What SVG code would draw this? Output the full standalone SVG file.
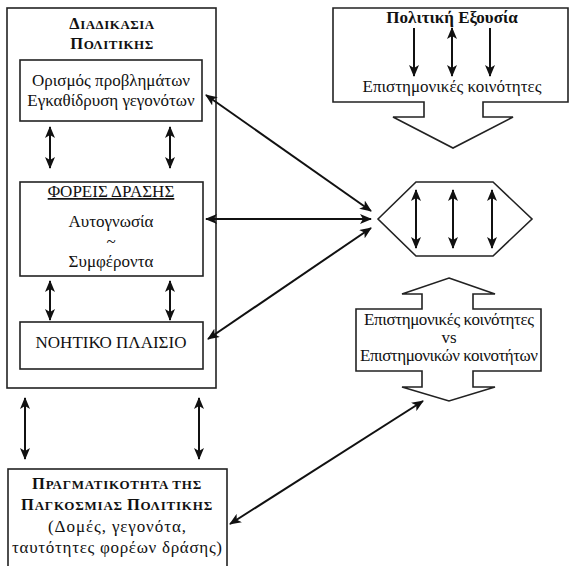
<svg xmlns="http://www.w3.org/2000/svg" width="570" height="566" viewBox="0 0 570 566">
<defs>
<marker id="ah" viewBox="0 0 12 10" refX="11" refY="5" markerWidth="12" markerHeight="10" markerUnits="userSpaceOnUse" orient="auto-start-reverse">
<path d="M0,0 L12,5 L0,10 L3,5 Z" fill="#111"/>
</marker>
</defs>
<style>
.box{fill:#fff;stroke:#222;stroke-width:1.6}
.t{font-family:"Liberation Serif","Times New Roman",serif;font-size:17px;fill:#111;text-anchor:middle}
.b{font-weight:bold}
.c{stroke:#111;stroke-width:2;fill:none}
.two{marker-start:url(#ah);marker-end:url(#ah)}
.one{marker-end:url(#ah)}
</style>
<rect width="570" height="566" fill="#fff"/>

<g id="process">
<rect class="box" x="7" y="8" width="209" height="380"/>
<text class="t b" x="112" y="29" letter-spacing="0.5"><tspan font-size="16.5">Δ</tspan><tspan font-size="13">ΙΑΔΙΚΑΣΙΑ</tspan></text>
<text class="t b" x="112" y="49" letter-spacing="0.5"><tspan font-size="16.5">Π</tspan><tspan font-size="13">ΟΛΙΤΙΚΗΣ</tspan></text>
</g>
<g id="problems">
<rect class="box" x="20" y="60" width="182" height="61"/>
<text class="t" x="111" y="86" font-size="17.5">Ορισμός προβλημάτων</text>
<text class="t" x="111" y="106">Εγκαθίδρυση γεγονότων</text>
</g>
<g id="actors">
<rect class="box" x="20" y="182" width="183" height="94"/>
<text class="t" x="111" y="197" font-size="14" text-decoration="underline">ΦΟΡΕΙΣ ΔΡΑΣΗΣ</text>
<text class="t" x="111" y="227">Αυτογνωσία</text>
<text class="t" x="111" y="247">~</text>
<text class="t" x="111" y="267">Συμφέροντα</text>
</g>
<g id="framework">
<rect class="box" x="20" y="322" width="183" height="47"/>
<text class="t" x="111" y="348" font-size="13.8">ΝΟΗΤΙΚΟ ΠΛΑΙΣΙΟ</text>
</g>
<g id="reality">
<rect class="box" x="8" y="469" width="219" height="110"/>
<text class="t b" x="117" y="489" letter-spacing="0.8"><tspan font-size="16.5">Π</tspan><tspan font-size="13">ΡΑΓΜΑΤΙΚΟΤΗΤΑ ΤΗΣ</tspan></text>
<text class="t b" x="117" y="510" letter-spacing="0.8"><tspan font-size="16.5">Π</tspan><tspan font-size="13">ΑΓΚΟΣΜΙΑΣ </tspan><tspan font-size="16.5">Π</tspan><tspan font-size="13">ΟΛΙΤΙΚΗΣ</tspan></text>
<text class="t" x="117" y="532" font-size="18.5" textLength="138" lengthAdjust="spacing">(Δομές, γεγονότα,</text>
<text class="t" x="117" y="553" font-size="18.5" textLength="210" lengthAdjust="spacing">ταυτότητες φορέων δράσης)</text>
</g>
<g id="power">
<path class="box" d="M333,8 H568 V102 H483 V117 H513 L453,148 L393,117 H424 V102 H333 Z"/>
<text class="t b" x="452" y="23" font-size="17.5">Πολιτική Εξουσία</text>
<text class="t" x="452" y="92" font-size="14.5">Επιστημονικές κοινότητες</text>
</g>
<g id="hexagon">
<path class="box" d="M378,219 L416,182 H493 L532,219 L493,256 H416 Z"/>
</g>
<g id="communities">
<path class="box" d="M449,278 L495,294 H473 V309 H541 V371 H473 V387 H495 L449,401 L402,387 H422 V371 H356 V309 H422 V294 H402 Z"/>
<text class="t" x="449" y="325" font-size="14" textLength="170" lengthAdjust="spacing">Επιστημονικές κοινότητες</text>
<text class="t" x="449" y="343" font-size="14">vs</text>
<text class="t" x="449" y="361" font-size="14" textLength="178" lengthAdjust="spacing">Επιστημονικών κοινοτήτων</text>
</g>
<g id="connectors">
<line class="c two" x1="50" y1="127" x2="50" y2="168"/>
<line class="c two" x1="170" y1="127" x2="170" y2="168"/>
<line class="c two" x1="50" y1="281" x2="50" y2="320"/>
<line class="c two" x1="170" y1="281" x2="170" y2="320"/>
<line class="c two" x1="25" y1="398" x2="25" y2="459"/>
<line class="c two" x1="199" y1="398" x2="199" y2="459"/>
<line class="c one" x1="414" y1="28" x2="414" y2="76"/>
<line class="c two" x1="452" y1="28" x2="452" y2="76"/>
<line class="c one" x1="490" y1="28" x2="490" y2="76"/>
<line class="c two" x1="416" y1="190" x2="416" y2="248"/>
<line class="c two" x1="453" y1="190" x2="453" y2="248"/>
<line class="c two" x1="492" y1="190" x2="492" y2="248"/>
<line class="c two" x1="206" y1="95" x2="371" y2="211"/>
<line class="c two" x1="206" y1="219" x2="371" y2="219"/>
<line class="c two" x1="208" y1="339" x2="371" y2="228"/>
<line class="c two" x1="230" y1="524" x2="423" y2="401"/>
</g>
</svg>
